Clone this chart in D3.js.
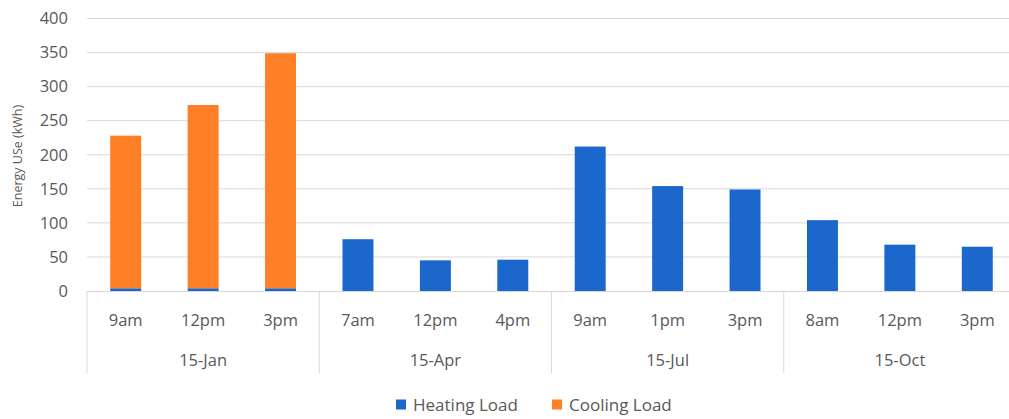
<!DOCTYPE html>
<html><head><meta charset="utf-8">
<script src="https://cdn.jsdelivr.net/npm/d3@7"></script>
<style>body{margin:0;background:#fff}svg{display:block}text{font-family:"Open Sans",sans-serif;fill:#595959}</style>
</head><body><div id="chart"></div>
<script>
const groups = ["15-Jan","15-Apr","15-Jul","15-Oct"];
const times = [["9am","12pm","3pm"],["7am","12pm","4pm"],["9am","1pm","3pm"],["8am","12pm","3pm"]];
const heating = [4,4,4, 76,45,46, 212,154,149, 104,68,65];
const cooling = [224,269,345, 0,0,0, 0,0,0, 0,0,0];
const yTicks = [0,50,100,150,200,250,300,350,400];
const seriesNames = ["Heating Load","Cooling Load"];
const colors = ["#1b67cc","#ff7f27"];

const W=1009,H=419;
const svg=d3.select("#chart").append("svg").attr("width",W).attr("height",H);
const cats=[];times.forEach((t,g)=>t.forEach((s,i)=>cats.push(g+"|"+i)));
const x=d3.scaleBand().domain(cats).range([87,1016]).paddingInner(0.6).paddingOuter(0.3);
const y=d3.scaleLinear().domain([0,400]).range([291,18.5]);

// gridlines
svg.append("g").selectAll("line").data(yTicks.slice(1)).join("line")
 .attr("x1",87).attr("x2",1016).attr("y1",d=>y(d)).attr("y2",d=>y(d))
 .attr("stroke","#d9d9d9").attr("stroke-width",1);
// y tick labels
svg.append("g").selectAll("text").data(yTicks).join("text")
 .attr("x",68).attr("y",d=>y(d)).attr("dy","0.35em").attr("text-anchor","end")
 .attr("font-size",16.5).text(d=>d);
svg.append("text").attr("transform","translate(18,156) rotate(-90)").attr("text-anchor","middle")
 .attr("dy","0.35em").attr("font-size",12.5).text("Energy USe (kWh)");

// stacked bars
const rows=cats.map((c,i)=>({c,h:heating[i],co:cooling[i]}));
const stack=d3.stack().keys(["h","co"])(rows);
svg.append("g").selectAll("g").data(stack).join("g").attr("fill",(d,i)=>colors[i])
 .selectAll("rect").data(d=>d).join("rect")
 .attr("x",d=>x(d.data.c)).attr("width",x.bandwidth())
 .attr("y",d=>y(d[1])).attr("height",d=>y(d[0])-y(d[1]));

// baseline and separators
svg.append("line").attr("x1",87).attr("x2",1016).attr("y1",y(0)+0.5).attr("y2",y(0)+0.5).attr("stroke","#d9d9d9");
const gw=(1016-87)/groups.length;
svg.append("g").selectAll("line").data(d3.range(groups.length+1)).join("line")
 .attr("x1",i=>87+i*gw).attr("x2",i=>87+i*gw).attr("y1",y(0)).attr("y2",373)
 .attr("stroke","#d9d9d9");
svg.append("g").selectAll("text").data(cats).join("text")
 .attr("x",c=>x(c)+x.bandwidth()/2).attr("y",320).attr("dy","0.35em").attr("text-anchor","middle")
 .attr("font-size",16.5).text(c=>{const [g,i]=c.split("|");return times[g][i];});
svg.append("g").selectAll("text").data(groups).join("text")
 .attr("x",(d,i)=>87+(i+0.5)*gw).attr("y",360).attr("dy","0.35em").attr("text-anchor","middle")
 .attr("font-size",16.5).text(d=>d);

// legend
const lg=svg.append("g");
const lx=[396,552];
seriesNames.forEach((n,i)=>{
 lg.append("rect").attr("x",lx[i]).attr("y",399.5).attr("width",10).attr("height",10).attr("fill",colors[i]);
 lg.append("text").attr("x",lx[i]+17).attr("y",405).attr("dy","0.35em").attr("font-size",17).text(n);
});
</script></body></html>
